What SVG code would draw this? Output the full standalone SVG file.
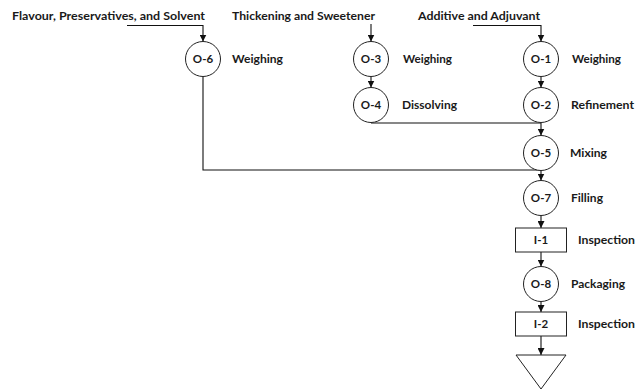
<svg xmlns="http://www.w3.org/2000/svg" width="635" height="390" viewBox="0 0 635 390">
<style>
text{font-family:Lato,"Liberation Sans",sans-serif;font-weight:bold;font-size:11px;fill:#1a1a1a}
.id{text-anchor:middle;font-size:11.5px}
.sh{fill:#fff;stroke:#222;stroke-width:1}
.ln{fill:none;stroke:#111;stroke-width:1.1}
</style>
<defs>
<marker id="ah" viewBox="0 0 7 7" refX="7" refY="3.5" markerWidth="7" markerHeight="7" markerUnits="userSpaceOnUse" orient="auto">
<path d="M0,0 L7,3.5 L0,7 z" fill="#111"/>
</marker>
</defs>
<rect width="635" height="390" fill="#fff"/>
<g id="inputs">
<text x="12" y="19.5" textLength="193" lengthAdjust="spacingAndGlyphs">Flavour, Preservatives, and Solvent</text>
<text x="232" y="19.5" textLength="143" lengthAdjust="spacingAndGlyphs">Thickening and Sweetener</text>
<text x="418" y="19.5" textLength="122" lengthAdjust="spacingAndGlyphs">Additive and Adjuvant</text>
</g>
<g id="connectors">
<polyline class="ln" points="127,25.5 203,25.5 203,41.5" marker-end="url(#ah)"/>
<line class="ln" x1="371" y1="24" x2="371" y2="41.5" marker-end="url(#ah)"/>
<polyline class="ln" points="473,25.5 541,25.5 541,41.5" marker-end="url(#ah)"/>
<line class="ln" x1="371" y1="76.5" x2="371" y2="87.5" marker-end="url(#ah)"/>
<line class="ln" x1="541" y1="76.5" x2="541" y2="87.5" marker-end="url(#ah)"/>
<polyline class="ln" points="371,123 541,123 541,135.5" marker-end="url(#ah)"/>
<polyline class="ln" points="203,76.5 203,170 541,170 541,180.5" marker-end="url(#ah)"/>
<line class="ln" x1="541" y1="215.5" x2="541" y2="228" marker-end="url(#ah)"/>
<line class="ln" x1="541" y1="252" x2="541" y2="266.5" marker-end="url(#ah)"/>
<line class="ln" x1="541" y1="301.5" x2="541" y2="312" marker-end="url(#ah)"/>
<line class="ln" x1="541" y1="336" x2="541" y2="355" marker-end="url(#ah)"/>
</g>
<g id="O-6">
<circle class="sh" cx="203" cy="59" r="17.5"/>
<text class="id" x="203" y="63">O-6</text>
<text x="232" y="63" textLength="51" lengthAdjust="spacingAndGlyphs">Weighing</text>
</g>
<g id="O-3">
<circle class="sh" cx="371" cy="59" r="17.5"/>
<text class="id" x="371" y="63">O-3</text>
<text x="403" y="63" textLength="49" lengthAdjust="spacingAndGlyphs">Weighing</text>
</g>
<g id="O-4">
<circle class="sh" cx="371" cy="105" r="17.5"/>
<text class="id" x="371" y="109">O-4</text>
<text x="402" y="109" textLength="55" lengthAdjust="spacingAndGlyphs">Dissolving</text>
</g>
<g id="O-1">
<circle class="sh" cx="541" cy="59" r="17.5"/>
<text class="id" x="541" y="63">O-1</text>
<text x="572" y="63" textLength="49" lengthAdjust="spacingAndGlyphs">Weighing</text>
</g>
<g id="O-2">
<circle class="sh" cx="541" cy="105" r="17.5"/>
<text class="id" x="541" y="109">O-2</text>
<text x="571" y="109" textLength="63" lengthAdjust="spacingAndGlyphs">Refinement</text>
</g>
<g id="O-5">
<circle class="sh" cx="541" cy="153" r="17.5"/>
<text class="id" x="541" y="157">O-5</text>
<text x="570" y="157" textLength="37" lengthAdjust="spacingAndGlyphs">Mixing</text>
</g>
<g id="O-7">
<circle class="sh" cx="541" cy="198" r="17.5"/>
<text class="id" x="541" y="202">O-7</text>
<text x="571" y="202" textLength="32" lengthAdjust="spacingAndGlyphs">Filling</text>
</g>
<g id="I-1">
<rect class="sh" x="515.5" y="228" width="51" height="24"/>
<text class="id" x="541" y="244">I-1</text>
<text x="578" y="244" textLength="57" lengthAdjust="spacingAndGlyphs">Inspection</text>
</g>
<g id="O-8">
<circle class="sh" cx="541" cy="284" r="17.5"/>
<text class="id" x="541" y="288">O-8</text>
<text x="571" y="288" textLength="54" lengthAdjust="spacingAndGlyphs">Packaging</text>
</g>
<g id="I-2">
<rect class="sh" x="515.5" y="312" width="51" height="24"/>
<text class="id" x="541" y="328">I-2</text>
<text x="578" y="328" textLength="57" lengthAdjust="spacingAndGlyphs">Inspection</text>
</g>
<g id="storage">
<polygon class="sh" points="516,355 566,355 541,389"/>
</g>
</svg>
